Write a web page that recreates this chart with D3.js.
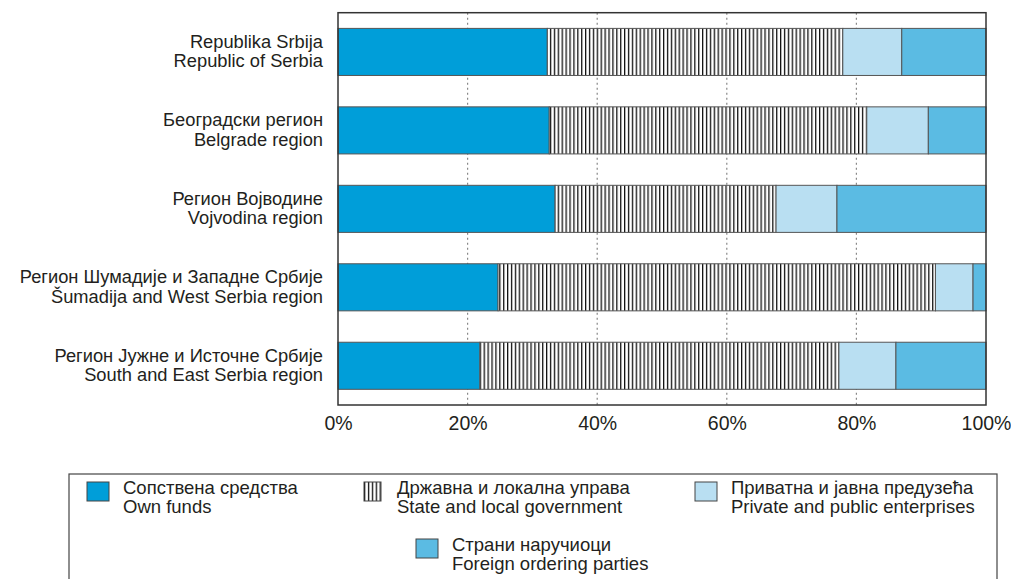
<!DOCTYPE html>
<html><head><meta charset="utf-8">
<script src="https://cdn.jsdelivr.net/npm/d3@7"></script>
<style>body{margin:0;background:#fff}svg{display:block}text{font-family:"Liberation Sans",Arial,sans-serif;fill:#231f20}</style>
</head><body><svg id="c" width="1011" height="579"></svg>
<script>
const regionsLine1 = ["Republika Srbija","Београдски регион","Регион Војводине","Регион Шумадије и Западне Србије","Регион Јужне и Источне Србије"];
const regionsLine2 = ["Republic of Serbia","Belgrade region","Vojvodina region","Šumadija and West Serbia region","South and East Serbia region"];
const ownFunds = [32.3, 32.6, 33.5, 24.7, 21.9];
const stateGov = [45.6, 49.0, 34.1, 67.5, 55.4];
const privateEnt = [9.1, 9.5, 9.4, 5.8, 8.8];
const foreign = [13.0, 8.9, 23.0, 2.0, 13.9];
const seriesKeys = ["own","state","priv","foreign"];
const seriesLine1 = ["Сопствена средства","Државна и локална управа","Приватна и јавна предузећа","Страни наручиоци"];
const seriesLine2 = ["Own funds","State and local government","Private and public enterprises","Foreign ordering parties"];
const tickValues = [0,20,40,60,80,100];

const svg = d3.select("#c");
const defs = svg.append("defs");
const pat = defs.append("pattern").attr("id","hatch").attr("patternUnits","userSpaceOnUse")
  .attr("width",3.9).attr("height",10);
pat.append("rect").attr("width",3.9).attr("height",10).attr("fill","#fff");
pat.append("rect").attr("x",0).attr("width",1.3).attr("height",10).attr("fill","#111");
const fills = {own:"#009ed9", state:"url(#hatch)", priv:"#b9dff2", foreign:"#5bbbe3"};

const L = 338, R = 986, T = 12.7, B = 405;
const x = d3.scaleLinear().domain([0,100]).range([L,R]);
const y = d3.scaleBand().domain(d3.range(regionsLine1.length)).range([T,B]).paddingInner(0.4).paddingOuter(0.2);

// grid
svg.append("g").selectAll("line").data(tickValues.filter(v=>v>0&&v<100)).join("line")
  .attr("x1",d=>x(d)).attr("x2",d=>x(d)).attr("y1",T).attr("y2",B)
  .attr("stroke","#888").attr("stroke-width",1.2).attr("stroke-dasharray","2,3");

const rows = regionsLine1.map((r,i)=>({i, own:ownFunds[i], state:stateGov[i], priv:privateEnt[i], foreign:foreign[i]}));
const stack = d3.stack().keys(seriesKeys)(rows);
svg.append("g").selectAll("g").data(stack).join("g").attr("fill",d=>fills[d.key])
  .selectAll("rect").data(d=>d).join("rect")
  .attr("x",d=>x(d[0])).attr("width",d=>x(d[1])-x(d[0]))
  .attr("y",d=>y(d.data.i)).attr("height",y.bandwidth())
  .attr("stroke","#555").attr("stroke-width",1);

// frame
svg.append("rect").attr("x",L).attr("y",T).attr("width",R-L).attr("height",B-T)
  .attr("fill","none").attr("stroke","#333").attr("stroke-width",1.5);

// x axis
const xa = svg.append("g").attr("transform",`translate(0,${B})`)
  .call(d3.axisBottom(x).tickValues(tickValues).tickFormat(d=>d+"%").tickSize(0).tickPadding(11));
xa.select(".domain").remove();
xa.selectAll("text").attr("font-size",19.5).attr("font-family","Liberation Sans, Arial, sans-serif").attr("fill","#231f20");

// y labels
const yl = svg.append("g").selectAll("text").data(rows).join("text")
  .attr("text-anchor","end").attr("font-size",18.3);
yl.append("tspan").attr("x",323).attr("y",d=>y(d.i)+y.bandwidth()/2-4).text(d=>regionsLine1[d.i]);
yl.append("tspan").attr("x",323).attr("y",d=>y(d.i)+y.bandwidth()/2+15.2).text(d=>regionsLine2[d.i]);

// legend
svg.append("rect").attr("x",69).attr("y",474).attr("width",928).attr("height",120)
  .attr("fill","none").attr("stroke","#444").attr("stroke-width",1.2);
const legPos = [[87,482],[364,482],[695,482],[416,539]];
const lg = svg.append("g").selectAll("g").data(seriesKeys).join("g")
  .attr("transform",(d,i)=>`translate(${legPos[i][0]},${legPos[i][1]})`);
lg.append("rect").attr("width",(d,i)=>i===1?17:22).attr("height",19).attr("fill",d=>fills[d]).attr("stroke","#444").attr("stroke-width",1);
const lt = lg.append("text").attr("font-size",18.5);
lt.append("tspan").attr("x",(d,i)=>i===1?33:36).attr("y",12).text((d,i)=>seriesLine1[i]);
lt.append("tspan").attr("x",(d,i)=>i===1?33:36).attr("y",31).text((d,i)=>seriesLine2[i]);
</script></body></html>
